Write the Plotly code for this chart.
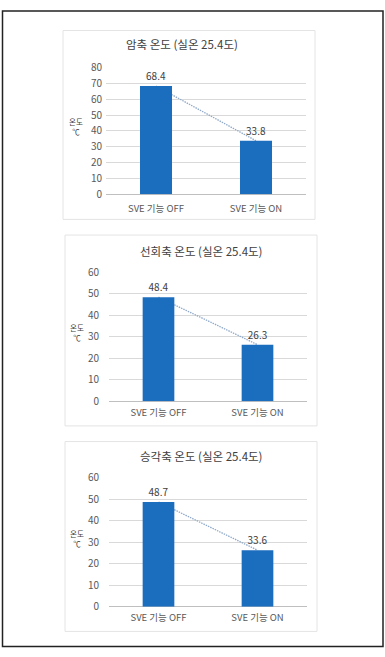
import plotly.graph_objects as go

W, H = 385, 657

categories = ["SVE 기능 OFF", "SVE 기능 ON"]
titles = ["암축 온도 (실온 25.4도)", "선회축 온도 (실온 25.4도)", "승각축 온도 (실온 25.4도)"]
values_1 = [68.4, 33.8]
values_2 = [48.4, 26.3]
values_3 = [48.7, 26.3]
labels_1 = ["68.4", "33.8"]
labels_2 = ["48.4", "26.3"]
labels_3 = ["48.7", "33.6"]
y_max = [80, 60, 60]
y_title = "온도<br>℃"

series = [values_1, values_2, values_3]
labels = [labels_1, labels_2, labels_3]

# layout in pixels
plot_px = [  # x0, x1, ytop, ybottom
    (106, 306, 61, 190.3),
    (109, 307, 270, 401.7),
    (109, 307, 480, 611.7),
]
box_px = [(63, 23, 315, 216), (65, 232, 317, 427), (65, 443, 317, 637)]
title_px = [(182, 37), (202, 248), (202, 458)]
ytitle_px = [(76, 121), (77, 332), (77, 542)]
standoff = [3, 9, 9]
xstandoff = [7, 4, 4]

px = lambda v: v / W
py = lambda v: 1 - v / H

BAR = "#1B6DBE"
GRID = "#D9D9D9"
TXT = "#595959"
FONT = "Noto Sans CJK KR"

fig = go.Figure()
layout = dict(
    width=W, height=H, margin=dict(l=0, r=0, t=0, b=0),
    paper_bgcolor="white", plot_bgcolor="rgba(0,0,0,0)",
    showlegend=False, font=dict(family=FONT, color=TXT, size=10),
    shapes=[], annotations=[],
)

for i in range(3):
    a = i + 1
    b = i + 4
    x0, x1, yt, yb = plot_px[i]
    xa, ya = f"x{a if a > 1 else ''}", f"y{a if a > 1 else ''}"
    xb, yb_ = f"x{b}", f"y{b}"
    # trend line (behind bars, on base axes)
    fig.add_trace(go.Scatter(
        x=categories, y=series[i], mode="lines", xaxis=xa, yaxis=ya,
        line=dict(color="#8FA9C9", width=1.3, dash="1.5px,1px"), hoverinfo="skip"))
    # bars on overlay axes
    fig.add_trace(go.Bar(
        x=categories, y=series[i], xaxis=xb, yaxis=yb_, width=0.32,
        marker=dict(color=BAR, line=dict(width=0)),
        text=labels[i], textposition="outside", cliponaxis=False,
        textfont=dict(size=10, color="#404040", family=FONT)))
    layout[f"xaxis{a if a > 1 else ''}"] = dict(
        domain=[px(x0), px(x1)], anchor=ya, type="category",
        categoryorder="array", categoryarray=categories, range=[-0.5, 1.5],
        showgrid=False, showline=False, ticks="", zeroline=False,
        ticklabelstandoff=xstandoff[i],
        tickfont=dict(size=9.5, color=TXT, family=FONT))
    layout[f"yaxis{a if a > 1 else ''}"] = dict(
        domain=[py(yb), py(yt)], anchor=xa, range=[0, y_max[i]], dtick=10,
        showgrid=True, gridcolor=GRID, gridwidth=1, zeroline=True,
        zerolinecolor="#BFBFBF", zerolinewidth=1, showline=False, ticks="",
        ticklabelstandoff=standoff[i],
        tickfont=dict(size=10, color=TXT, family=FONT))
    layout[f"xaxis{b}"] = dict(
        overlaying=xa, anchor=yb_, type="category", categoryorder="array",
        categoryarray=categories, range=[-0.5, 1.5], visible=False)
    layout[f"yaxis{b}"] = dict(
        overlaying=ya, anchor=xb, range=[0, y_max[i]], visible=False)
    # box
    bx0, by0, bx1, by1 = box_px[i]
    layout["shapes"].append(dict(
        type="rect", xref="paper", yref="paper", x0=px(bx0), x1=px(bx1),
        y0=py(by1), y1=py(by0), line=dict(color="#E4E4E4", width=1)))
    tx, ty = title_px[i]
    layout["annotations"].append(dict(
        text=titles[i], xref="paper", yref="paper", x=px(tx), y=py(ty),
        showarrow=False, xanchor="center", yanchor="middle",
        font=dict(size=11.5, color="#404040", family=FONT)))
    ax, ay = ytitle_px[i]
    layout["annotations"].append(dict(
        text=y_title, xref="paper", yref="paper", x=px(ax), y=py(ay),
        showarrow=False, xanchor="center", yanchor="middle",
        font=dict(size=7.5, color="#404040", family=FONT)))

# outer border
layout["shapes"].append(dict(
    type="rect", xref="paper", yref="paper", x0=px(2.5), x1=px(383),
    y0=py(652.5), y1=py(3), line=dict(color="#222222", width=1.5)))

fig.update_layout(**layout)
fig.write_html("out.html")
